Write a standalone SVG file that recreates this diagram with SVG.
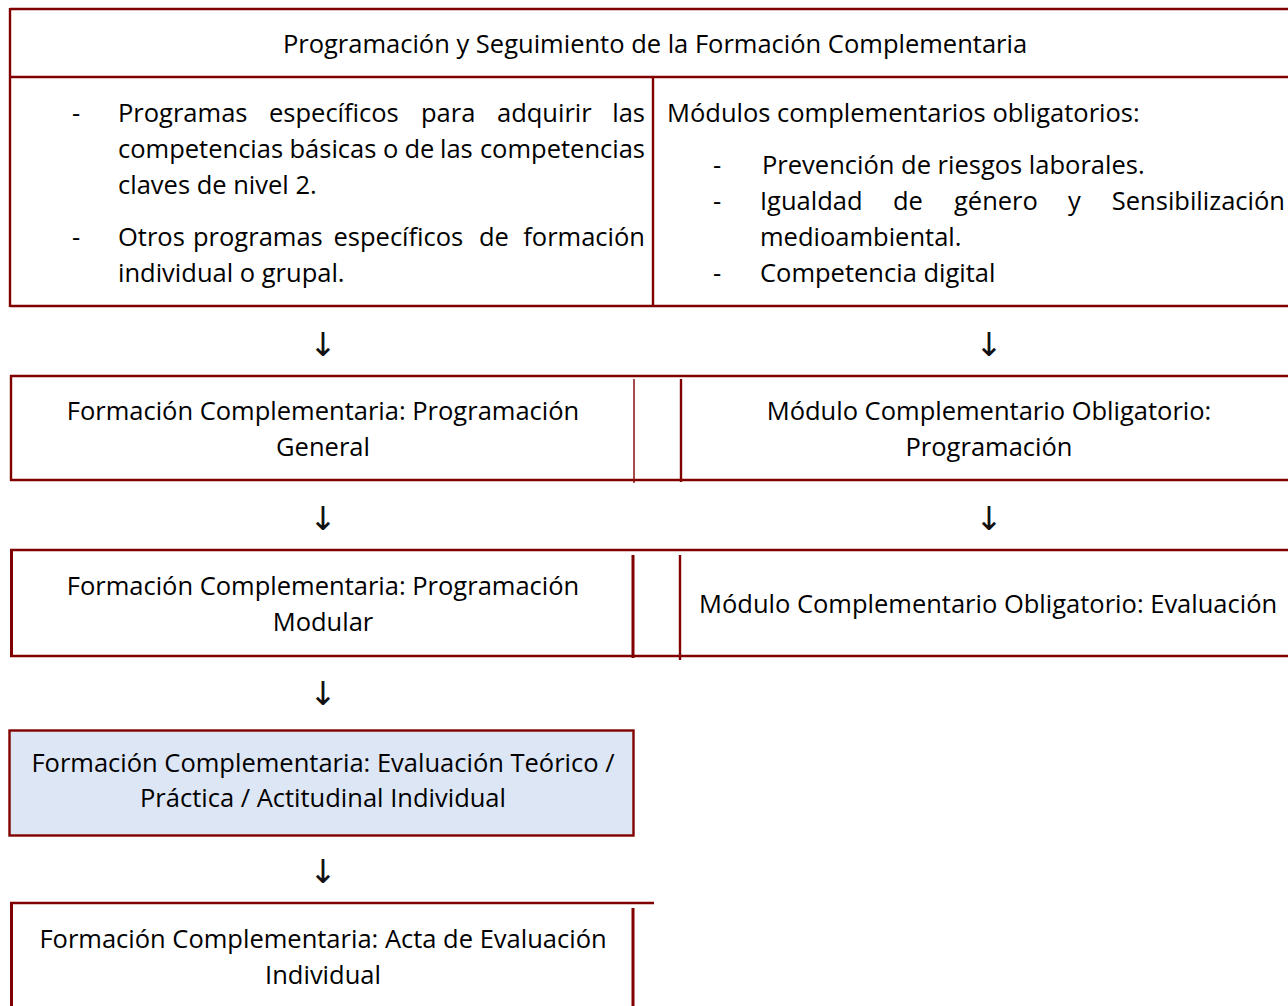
<svg xmlns="http://www.w3.org/2000/svg" width="1288" height="1006" viewBox="0 0 1288 1006">
<style>
.b{stroke:#800000;stroke-width:2.4;fill:none}
.bt{stroke:#800000;stroke-width:3;fill:none}
.bl{stroke:#8a1010;stroke-width:1.5;fill:none}
text{font-family:"Open Sans","Liberation Sans",sans-serif;font-size:25.5px;fill:#000}
.c{text-anchor:middle}
.e{text-anchor:end}
.arr{font-family:"DejaVu Sans",sans-serif;font-size:33px;text-anchor:middle;fill:#111}
</style>
<rect width="1288" height="1006" fill="#fff"/>
<g id="header">
<path class="b" d="M10 9H1290M10 77H1290M10 306H1290M10 8V307M653 77V306"/>
<text class="c" x="655" y="53">Programación y Seguimiento de la Formación Complementaria</text>
</g>
<g id="programas">
<text x="72" y="122">-</text>
<text x="118" y="122">Programas</text>
<text x="269" y="122">específicos</text>
<text x="421" y="122">para</text>
<text x="497" y="122">adquirir</text>
<text class="e" x="645" y="122">las</text>
<text x="118" y="158">competencias</text>
<text x="289.5" y="158">básicas</text>
<text x="383" y="158">o</text>
<text x="404.5" y="158">de</text>
<text x="440" y="158">las</text>
<text class="e" x="645" y="158">competencias</text>
<text x="118" y="194">claves de nivel 2.</text>
<text x="72" y="246">-</text>
<text x="118" y="246">Otros</text>
<text x="193" y="246">programas</text>
<text x="333.5" y="246">específicos</text>
<text x="479" y="246">de</text>
<text class="e" x="645" y="246">formación</text>
<text x="118" y="282">individual o grupal.</text>
</g>
<g id="modulos">
<text x="667" y="122">Módulos complementarios obligatorios:</text>
<text x="713" y="174">-</text>
<text x="762" y="174">Prevención de riesgos laborales.</text>
<text x="713" y="210">-</text>
<text x="760" y="210">Igualdad</text>
<text x="893" y="210">de</text>
<text x="954" y="210">género</text>
<text x="1068" y="210">y</text>
<text class="e" x="1285" y="210">Sensibilización</text>
<text x="760" y="246">medioambiental.</text>
<text x="713" y="282">-</text>
<text x="760" y="282">Competencia digital</text>
</g>
<g id="fc-prog-general">
<path class="b" d="M10 376H634M10 480H634M11 375V481"/>
<path class="bl" d="M634 379V483"/>
<text class="c" x="323" y="420">Formación Complementaria: Programación</text>
<text class="c" x="323" y="456">General</text>
</g>
<g id="mco-programacion">
<path class="b" d="M634 376H1290M634 480H1290M681 379V482"/>
<text class="c" x="989" y="420">Módulo Complementario Obligatorio:</text>
<text class="c" x="989" y="456">Programación</text>
</g>
<g id="fc-prog-modular">
<path class="b" d="M10 550H634M10 656H634"/>
<path class="bt" d="M11.5 549V657M633 555V658"/>
<text class="c" x="323" y="595">Formación Complementaria: Programación</text>
<text class="c" x="323" y="631">Modular</text>
</g>
<g id="mco-evaluacion">
<path class="b" d="M634 550H1290M634 656H1290M680 555V660"/>
<text x="699" y="613">Módulo Complementario Obligatorio: Evaluación</text>
</g>
<g id="fc-evaluacion">
<rect x="9.5" y="730.5" width="624" height="105" fill="#dde6f4" stroke="#800000" stroke-width="2.4"/>
<text class="c" x="323" y="772">Formación Complementaria: Evaluación Teórico /</text>
<text class="c" x="323" y="807">Práctica / Actitudinal Individual</text>
</g>
<g id="fc-acta">
<path class="b" d="M10 903H654"/>
<path class="bt" d="M11.5 902V1006M633 908V1006"/>
<text class="c" x="323" y="948">Formación Complementaria: Acta de Evaluación</text>
<text class="c" x="323" y="984">Individual</text>
</g>
<g id="connectors">
<text class="arr" x="323" y="356">↓</text>
<text class="arr" x="989" y="356">↓</text>
<text class="arr" x="323" y="530">↓</text>
<text class="arr" x="989" y="530">↓</text>
<text class="arr" x="323" y="705">↓</text>
<text class="arr" x="323" y="883">↓</text>
</g>
</svg>
